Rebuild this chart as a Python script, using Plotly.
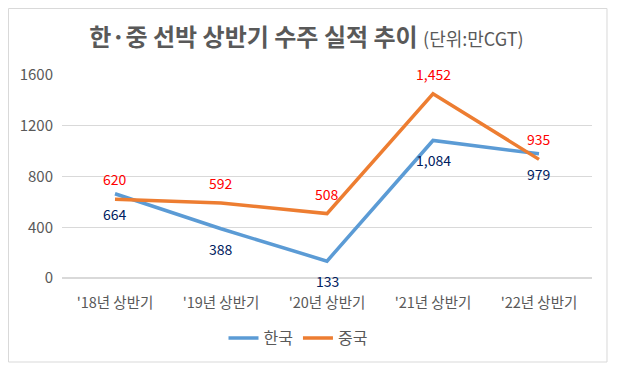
import plotly.graph_objects as go

categories = ["'18년 상반기", "'19년 상반기", "'20년 상반기", "'21년 상반기", "'22년 상반기"]
korea = [664, 388, 133, 1084, 979]
china = [620, 592, 508, 1452, 935]
korea_labels = ["664", "388", "133", "1,084", "979"]
china_labels = ["620", "592", "508", "1,452", "935"]
y_ticks = [0, 400, 800, 1200, 1600]

FONT = "Noto Sans CJK KR"

fig = go.Figure()
fig.add_trace(go.Scatter(
    x=categories, y=korea, name="한국", mode="lines",
    line=dict(color="#5B9BD5", width=3.5),
))
fig.add_trace(go.Scatter(
    x=categories, y=china, name="중국", mode="lines",
    line=dict(color="#ED7D31", width=3.5),
))

for c, v, t in zip(categories, korea, korea_labels):
    fig.add_annotation(x=c, y=v, text=t, showarrow=False, yshift=-20,
                       font=dict(color="#002060", size=14, family=FONT))
for c, v, t in zip(categories, china, china_labels):
    fig.add_annotation(x=c, y=v, text=t, showarrow=False, yshift=20,
                       font=dict(color="#FF0000", size=14, family=FONT))

fig.update_layout(
    width=609, height=367,
    margin=dict(l=54, r=25, t=67, b=97),
    paper_bgcolor="white", plot_bgcolor="white",
    font=dict(family=FONT, color="#595959", size=14),
    title=dict(
        text="<b>한·중 선박 상반기 수주 실적 추이</b> <span style='font-size:18px'>(단위:만CGT)</span>",
        x=0.49, xanchor="center", y=1 - 30 / 367, yanchor="middle",
        font=dict(size=24, color="#595959", family=FONT),
    ),
    xaxis=dict(range=[-0.5, 4.5], showgrid=False, showline=False, ticks="",
               tickfont=dict(size=14.5, color="#595959"), ticklabelstandoff=14),
    yaxis=dict(range=[0, 1600], tickvals=y_ticks, showgrid=True, gridcolor="#D9D9D9",
               zeroline=True, zerolinecolor="#D9D9D9", showline=False,
               tickfont=dict(size=15, color="#595959"), ticklabelstandoff=8),
    legend=dict(orientation="h", x=(290 - 54) / 530, xanchor="center",
                y=(270 - 330) / 203, yanchor="middle",
                font=dict(size=16, color="#595959")),
    showlegend=True,
)
fig.add_shape(type="rect", xref="paper", yref="paper",
              x0=-0.1009, x1=1.0283, y0=-0.4138, y1=1.3276,
              line=dict(color="#D9D9D9", width=1))
fig.write_html("out.html")
